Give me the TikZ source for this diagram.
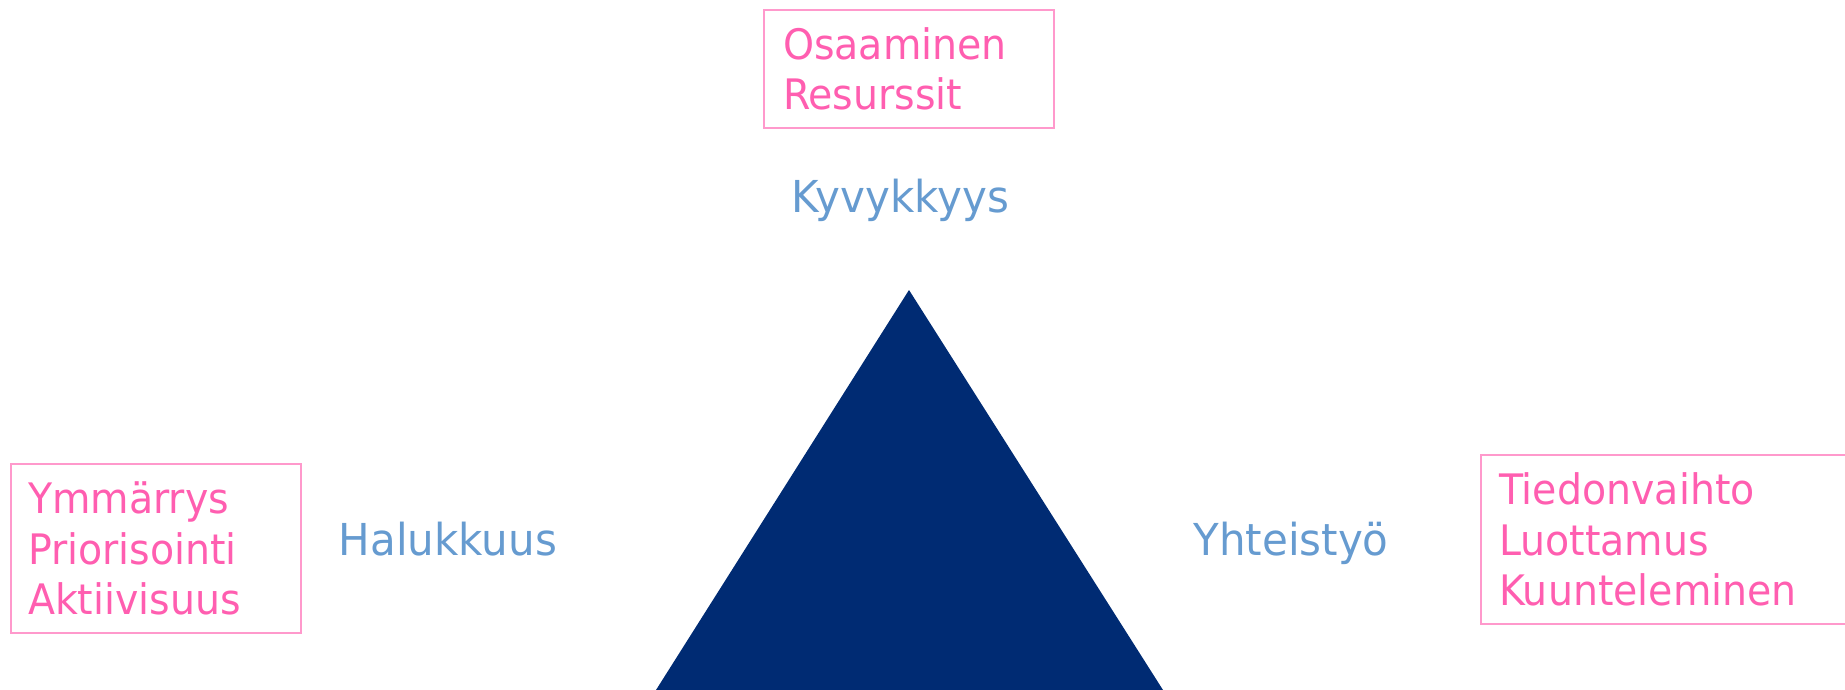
\documentclass[tikz,border=0pt]{standalone}
\usepackage{fontspec}
\setmainfont{DejaVu Sans}
\newfontfamily\pinkfont[FakeStretch=0.94]{DejaVu Sans}
\newfontfamily\bluefont[FakeStretch=0.955]{DejaVu Sans}
\definecolor{pinktxt}{RGB}{255,94,176}
\definecolor{pinkline}{RGB}{255,153,204}
\definecolor{bluetxt}{RGB}{102,155,208}
\definecolor{navy}{RGB}{0,43,115}
\tikzset{
  pinkbox/.style={draw=pinkline, line width=1.5pt, text=pinktxt, align=left,
    font=\pinkfont\fontsize{42}{50.5}\selectfont, inner ysep=0pt},
  bluelabel/.style={text=bluetxt, font=\bluefont\fontsize{44}{50}\selectfont, inner sep=0pt, anchor=base}
}
\begin{document}
\begin{tikzpicture}[x=1pt,y=-1pt]
\useasboundingbox (0,0) rectangle (1845,690);
% triangle
\coordinate (apex) at (909,290);
\coordinate (bl) at (656,690);
\coordinate (br) at (1163,690);
\fill[navy] (apex) -- (bl) -- (br) -- cycle;
% boxes
\node[pinkbox, minimum width=290pt, minimum height=118pt, text width=252pt, inner xsep=19pt] (top) at (909,69) {Osaaminen\\Resurssit};
\node[pinkbox, minimum width=290pt, minimum height=169pt, text width=256pt, inner xsep=17pt] (left) at (156,548.5) {Ymmärrys\\Priorisointi\\Aktiivisuus};
\node[pinkbox, minimum width=400pt, minimum height=169pt, text width=364pt, inner xsep=18pt] (right) at (1681,539.5) {Tiedonvaihto\\Luottamus\\Kuunteleminen};
% labels
\node[bluelabel] (kyv) at (900,212) {Kyvykkyys};
\node[bluelabel] (hal) at (448,555) {Halukkuus};
\node[bluelabel] (yht) at (1291,555) {Yhteistyö};
\end{tikzpicture}
\end{document}
